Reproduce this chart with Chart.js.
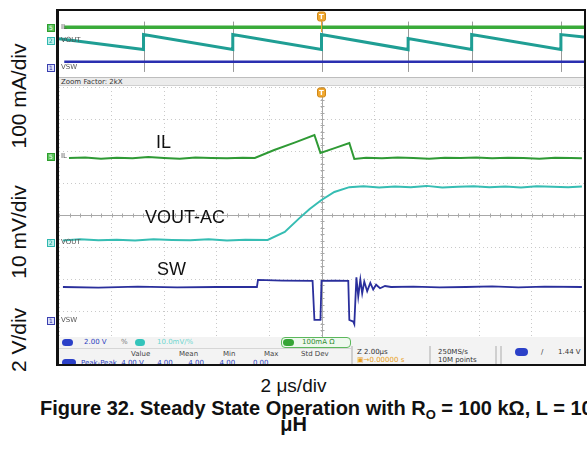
<!DOCTYPE html>
<html>
<head>
<meta charset="utf-8">
<script src="https://cdn.jsdelivr.net/npm/chart.js@4/dist/chart.umd.min.js"></script>
<style>
  html,body{margin:0;padding:0;background:#fff;}
  body{width:587px;height:449px;overflow:hidden;position:relative;font-family:"Liberation Sans",Arial,sans-serif;}
  .abs{position:absolute;}
  #frame{left:56px;top:9px;width:530px;height:357px;border:2px solid #111;border-left-width:3px;border-bottom-width:3px;box-sizing:border-box;}
  #ovWrap{left:59px;top:11px;width:525px;height:65px;}
  #mainWrap{left:59px;top:87px;width:525px;height:256px;}
  #zoombar{left:59px;top:77px;width:525px;height:9px;background:#ececec;border-top:1px solid #bdbdbd;border-bottom:1px solid #d0d0d0;font:7px "DejaVu Sans",sans-serif;color:#333;line-height:9px;padding-left:2px;box-sizing:border-box;}
  .vlab{font-size:21px;color:#111;white-space:nowrap;transform:rotate(-90deg);transform-origin:center center;text-align:center;width:160px;height:24px;line-height:24px;}
  .tlab{font-size:18px;color:#111;white-space:nowrap;}
  .chm{width:8px;height:8px;border:1px solid;box-sizing:border-box;font:6px "DejaVu Sans",sans-serif;line-height:6px;text-align:center;}
  .cht{font:7px "DejaVu Sans",sans-serif;color:#555;}
  #status{left:59px;top:337px;width:525px;height:27px;background:#f3f3f3;overflow:hidden;font:7px "DejaVu Sans",sans-serif;}
  .oval{position:absolute;border-radius:5px;height:7px;}
  .st{position:absolute;white-space:nowrap;}
</style>
</head>
<body>
<script>
// ---------------- data ----------------
// Main (zoomed) window: time in microseconds (2 us/div, trigger at 0), values in screen divisions
const ilTime = [-9.62,-9.0,-8.4,-7.8,-7.2,-6.6,-6.0,-5.4,-4.8,-4.2,-3.6,-3.0,-2.54,-1.8,-1.0,-0.27,-0.04,0.5,1.06,1.25,1.7,2.3,2.9,3.5,4.1,4.7,5.3,5.9,6.5,7.1,7.7,8.3,8.9,9.5,9.92];
const ilDiv  = [1.78,1.80,1.76,1.79,1.77,1.81,1.78,1.76,1.80,1.78,1.77,1.79,1.78,2.03,2.27,2.50,1.94,2.09,2.25,1.75,1.79,1.77,1.80,1.78,1.76,1.79,1.78,1.80,1.77,1.79,1.78,1.76,1.79,1.78,1.77];

const voutTime = [-9.85,-9.2,-8.5,-7.8,-7.1,-6.4,-5.7,-5.0,-4.3,-3.6,-2.9,-2.05,-1.40,-0.83,-0.45,0.0,0.49,1.06,1.6,2.2,2.8,3.4,4.0,4.6,5.2,5.8,6.4,7.0,7.6,8.2,8.8,9.4,9.92];
const voutDiv  = [-0.80,-0.76,-0.79,-0.77,-0.80,-0.76,-0.78,-0.79,-0.76,-0.80,-0.77,-0.78,-0.53,-0.09,0.19,0.47,0.72,0.87,0.90,0.86,0.89,0.87,0.91,0.86,0.88,0.90,0.87,0.89,0.86,0.90,0.88,0.87,0.89];

const swTime = [-9.85,-8.5,-7.0,-5.5,-4.0,-2.46,-2.42,-1.5,-0.34,-0.27,-0.04,0.0,0.5,1.02,1.06,1.21,1.25,1.33,1.40,1.48,1.55,1.63,1.74,1.86,1.97,2.08,2.23,2.42,2.65,3.5,4.5,5.5,6.5,7.5,8.5,9.92];
const swDiv  = [-2.25,-2.27,-2.24,-2.26,-2.25,-2.25,-2.03,-2.05,-2.06,-3.28,-3.28,-2.06,-2.05,-2.06,-3.28,-3.33,-3.41,-1.95,-2.55,-2.02,-2.45,-2.08,-2.38,-2.12,-2.33,-2.18,-2.29,-2.22,-2.25,-2.24,-2.26,-2.25,-2.23,-2.26,-2.24,-2.25];

// Overview strip (2kX zoom-out): x in divisions 0..10, y in strip units 0..8
const ovIlX = [0.1,10];
const ovIlY = [6.0,6.0];
const ovVoutX = [0,1.61,1.61,3.31,3.31,5.0,5.0,6.65,6.65,7.86,7.86,9.56,9.56,10];
const ovVoutY = [4.6,3.25,5.1,3.25,5.1,3.25,5.1,3.25,4.6,3.25,5.1,3.25,5.1,4.8];
const ovSwX = [0.1,10];
const ovSwY = [1.75,1.75];
const ovMarks = [1.61,3.31,5.0,6.65,7.86,9.56];
const ovTrigger = 5.0;
const mainTrigger = 0;

// axis / grid setup
const timeTicks = [-10,-8,-6,-4,-2,0,2,4,6,8,10];
const divTicks = [-4,-3,-2,-1,0,1,2,3,4];

const pts = (xs, ys) => xs.map((x, i) => ({x: x, y: ys[i]}));
</script>

<div id="frame" class="abs"></div>

<!-- left rotated scale labels -->
<div class="abs vlab" style="left:-61px;top:328px;">2 V/div</div>
<div class="abs vlab" style="left:-61px;top:220px;">10 mV/div</div>
<div class="abs vlab" style="left:-61px;top:84px;">100 mA/div</div>

<div id="ovWrap" class="abs"><canvas id="ov"></canvas></div>
<div id="zoombar" class="abs">Zoom Factor: 2kX</div>
<div id="mainWrap" class="abs"><canvas id="main"></canvas></div>

<!-- channel markers -->
<div class="abs chm" style="left:47px;top:24px;border-color:#2e9e2e;background:#5cc45c;color:#fff;">5</div>
<div class="abs cht" style="left:61px;top:23px;">IL</div>
<div class="abs chm" style="left:47px;top:37px;border-color:#30b8b0;background:#bdeeea;color:#20a098;">2</div>
<div class="abs cht" style="left:61px;top:36px;">VOUT</div>
<div class="abs chm" style="left:47px;top:64px;border-color:#3a40b0;background:#dde0f8;color:#2a30a0;">1</div>
<div class="abs cht" style="left:61px;top:63px;">VSW</div>

<div class="abs chm" style="left:47px;top:153px;border-color:#2e9e2e;background:#5cc45c;color:#fff;">5</div>
<div class="abs cht" style="left:61px;top:152px;">IL</div>
<div class="abs chm" style="left:47px;top:239px;border-color:#30b8b0;background:#bdeeea;color:#20a098;">2</div>
<div class="abs cht" style="left:61px;top:238px;">VOUT</div>
<div class="abs chm" style="left:47px;top:317px;border-color:#3a40b0;background:#dde0f8;color:#2a30a0;">1</div>
<div class="abs cht" style="left:61px;top:316px;">VSW</div>

<!-- trace labels -->
<div class="abs tlab" style="left:156px;top:132px;">IL</div>
<div class="abs tlab" style="left:145px;top:207px;">VOUT-AC</div>
<div class="abs tlab" style="left:157px;top:259px;">SW</div>

<!-- status bar -->
<div id="status" class="abs">
  <div class="oval" style="left:3px;top:2px;width:11px;background:#2b40c8;"></div>
  <div class="st" style="left:25px;top:1px;color:#2b3fc0;">2.00 V</div>
  <div class="st" style="left:62px;top:1px;color:#777;">%</div>
  <div class="oval" style="left:76px;top:2px;width:10px;background:#33c4bb;"></div>
  <div class="st" style="left:98px;top:1px;color:#6fd6cf;">10.0mV/%</div>
  <div class="st" style="left:222px;top:0px;width:68px;height:9px;border:1px solid #5cb85c;border-radius:4px;background:#eef8ee;"></div>
  <div class="oval" style="left:224px;top:2px;width:11px;background:#35a535;"></div>
  <div class="st" style="left:243px;top:1px;color:#2e8b2e;">100mA Ω</div>
  <div class="st" style="left:0px;top:11px;width:292px;height:1px;background:#d6d6d6;"></div>
  <div class="st" style="left:72px;top:13px;color:#444;">Value</div>
  <div class="st" style="left:120px;top:13px;color:#444;">Mean</div>
  <div class="st" style="left:164px;top:13px;color:#444;">Min</div>
  <div class="st" style="left:205px;top:13px;color:#444;">Max</div>
  <div class="st" style="left:242px;top:13px;color:#444;">Std Dev</div>
  <div class="oval" style="left:3px;top:22px;width:14px;background:#2b40c8;"></div>
  <div class="st" style="left:22px;top:22px;color:#2b3fc0;">Peak-Peak &nbsp;4.00 V &nbsp;&nbsp;&nbsp;&nbsp;&nbsp;4.00 &nbsp;&nbsp;&nbsp;&nbsp;&nbsp;&nbsp;4.00 &nbsp;&nbsp;&nbsp;&nbsp;&nbsp;&nbsp;4.00 &nbsp;&nbsp;&nbsp;&nbsp;&nbsp;&nbsp;&nbsp;0.00</div>
  <div class="st" style="left:292px;top:9px;width:2px;height:18px;background:#cfcfcf;"></div>
  <div class="st" style="left:298px;top:11px;color:#333;">Z 2.00μs</div>
  <div class="st" style="left:298px;top:19px;color:#e8a020;">▣→0.00000 s</div>
  <div class="st" style="left:370px;top:9px;width:2px;height:18px;background:#cfcfcf;"></div>
  <div class="st" style="left:379px;top:11px;color:#333;">250MS/s</div>
  <div class="st" style="left:379px;top:19px;color:#333;">10M points</div>
  <div class="st" style="left:436px;top:9px;width:2px;height:18px;background:#cfcfcf;"></div>
  <div class="st" style="left:441px;top:9px;width:2px;height:18px;background:#cfcfcf;"></div>
  <div class="oval" style="left:456px;top:11px;width:13px;height:8px;background:#2b40c8;"></div>
  <div class="st" style="left:482px;top:11px;color:#333;">/</div>
  <div class="st" style="left:499px;top:11px;color:#333;">1.44 V</div>
</div>

<!-- bottom captions -->
<div class="abs" style="left:0;width:587px;top:375px;text-align:center;font-size:19px;color:#111;">2 μs/div</div>
<div class="abs" style="left:40px;top:397px;font-size:20px;line-height:22px;font-weight:bold;color:#111;white-space:nowrap;">Figure 32. Steady State Operation with R<sub style="font-size:13px;vertical-align:-4px;line-height:0;">O</sub> = 100 kΩ, L = 10</div>
<div class="abs" style="left:0;width:587px;top:413px;text-align:center;font-size:20px;line-height:22px;font-weight:bold;color:#111;">μH</div>

<script>
Chart.defaults.animation = false;
Chart.defaults.font.family = '"Liberation Sans", Arial, sans-serif';

function badge(ctx, x, y) {
  ctx.save();
  ctx.fillStyle = '#f0a830';
  ctx.strokeStyle = '#d08818';
  ctx.beginPath();
  ctx.roundRect ? ctx.roundRect(x - 4, y, 8, 9, 2) : ctx.rect(x - 4, y, 8, 9);
  ctx.fill();
  ctx.stroke();
  ctx.fillStyle = '#fff';
  ctx.font = 'bold 7px "DejaVu Sans"';
  ctx.textAlign = 'center';
  ctx.textBaseline = 'middle';
  ctx.fillText('T', x, y + 4.8);
  ctx.restore();
}

// ---- overview strip ----
const ovPlugin = {
  id: 'ovDecor',
  beforeDatasetsDraw(chart) {
    const {ctx, scales: {x, y}} = chart;
    ctx.save();
    ctx.strokeStyle = '#9a9a9a';
    ctx.lineWidth = 1;
    ovMarks.forEach(m => {
      const px = Math.round(x.getPixelForValue(m)) + 0.5;
      ctx.beginPath();
      ctx.moveTo(px, y.getPixelForValue(6.7));
      ctx.lineTo(px, y.getPixelForValue(0.5));
      ctx.stroke();
    });
    ctx.restore();
  },
  afterDatasetsDraw(chart) {
    const {ctx, scales: {x, y}} = chart;
    const px = x.getPixelForValue(ovTrigger);
    ctx.save();
    ctx.strokeStyle = '#f0a830';
    ctx.lineWidth = 1;
    ctx.beginPath();
    ctx.moveTo(px, y.getPixelForValue(7.4));
    ctx.lineTo(px, y.getPixelForValue(5.4));
    ctx.stroke();
    ctx.restore();
    badge(ctx, px, y.getPixelForValue(8) + 1);
  }
};

new Chart(document.getElementById('ov'), {
  type: 'line',
  data: {
    datasets: [
      {label: 'IL', data: pts(ovIlX, ovIlY), borderColor: '#3aab3a', borderWidth: 3.5, pointRadius: 0},
      {label: 'VOUT', data: pts(ovVoutX, ovVoutY), borderColor: '#1f9e94', borderWidth: 3, pointRadius: 0, tension: 0},
      {label: 'VSW', data: pts(ovSwX, ovSwY), borderColor: '#2a2fb0', borderWidth: 2.5, pointRadius: 0}
    ]
  },
  options: {
    responsive: true, maintainAspectRatio: false,
    layout: {padding: 0},
    plugins: {legend: {display: false}, tooltip: {enabled: false}},
    scales: {
      x: {type: 'linear', min: 0, max: 10, display: false},
      y: {type: 'linear', min: 0, max: 8, display: false}
    }
  },
  plugins: [ovPlugin]
});

// ---- main zoomed window ----
const mainPlugin = {
  id: 'mainDecor',
  beforeDatasetsDraw(chart) {
    const {ctx, chartArea: a, scales: {x, y}} = chart;
    const cx = Math.round(x.getPixelForValue(mainTrigger)) + 0.5;
    const cy = Math.round(y.getPixelForValue(0)) + 0.5;
    ctx.save();
    ctx.strokeStyle = '#a8a8a8';
    ctx.lineWidth = 1;
    ctx.beginPath();
    ctx.moveTo(cx, a.top); ctx.lineTo(cx, a.bottom);
    ctx.moveTo(a.left, cy); ctx.lineTo(a.right, cy);
    for (let t = -10; t <= 10.001; t += 0.4) {
      const px = Math.round(x.getPixelForValue(t)) + 0.5;
      ctx.moveTo(px, cy - 2); ctx.lineTo(px, cy + 2);
    }
    for (let d = -4; d <= 4.001; d += 0.2) {
      const py = Math.round(y.getPixelForValue(d)) + 0.5;
      ctx.moveTo(cx - 2, py); ctx.lineTo(cx + 2, py);
    }
    ctx.stroke();
    ctx.restore();
  },
  afterDatasetsDraw(chart) {
    const {ctx, chartArea: a, scales: {x}} = chart;
    badge(ctx, x.getPixelForValue(mainTrigger), a.top + 1);
  }
};

new Chart(document.getElementById('main'), {
  type: 'line',
  data: {
    datasets: [
      {label: 'IL', data: pts(ilTime, ilDiv), borderColor: '#2f9a35', borderWidth: 2, pointRadius: 0},
      {label: 'VOUT-AC', data: pts(voutTime, voutDiv), borderColor: '#36bdb3', borderWidth: 2, pointRadius: 0},
      {label: 'SW', data: pts(swTime, swDiv), borderColor: '#2a2f9c', borderWidth: 1.8, pointRadius: 0}
    ]
  },
  options: {
    responsive: true, maintainAspectRatio: false,
    layout: {padding: 0},
    plugins: {legend: {display: false}, tooltip: {enabled: false}},
    scales: {
      x: {
        type: 'linear', min: -10, max: 10,
        afterBuildTicks: s => { s.ticks = timeTicks.map(v => ({value: v})); },
        ticks: {display: false},
        grid: {color: '#c9c9c9', drawTicks: false, lineWidth: 1},
        border: {display: false, dash: [1, 3]}
      },
      y: {
        type: 'linear', min: -4, max: 4,
        afterBuildTicks: s => { s.ticks = divTicks.map(v => ({value: v})); },
        ticks: {display: false},
        grid: {color: '#c9c9c9', drawTicks: false, lineWidth: 1},
        border: {display: false, dash: [1, 3]}
      }
    }
  },
  plugins: [mainPlugin]
});
</script>
</body>
</html>
